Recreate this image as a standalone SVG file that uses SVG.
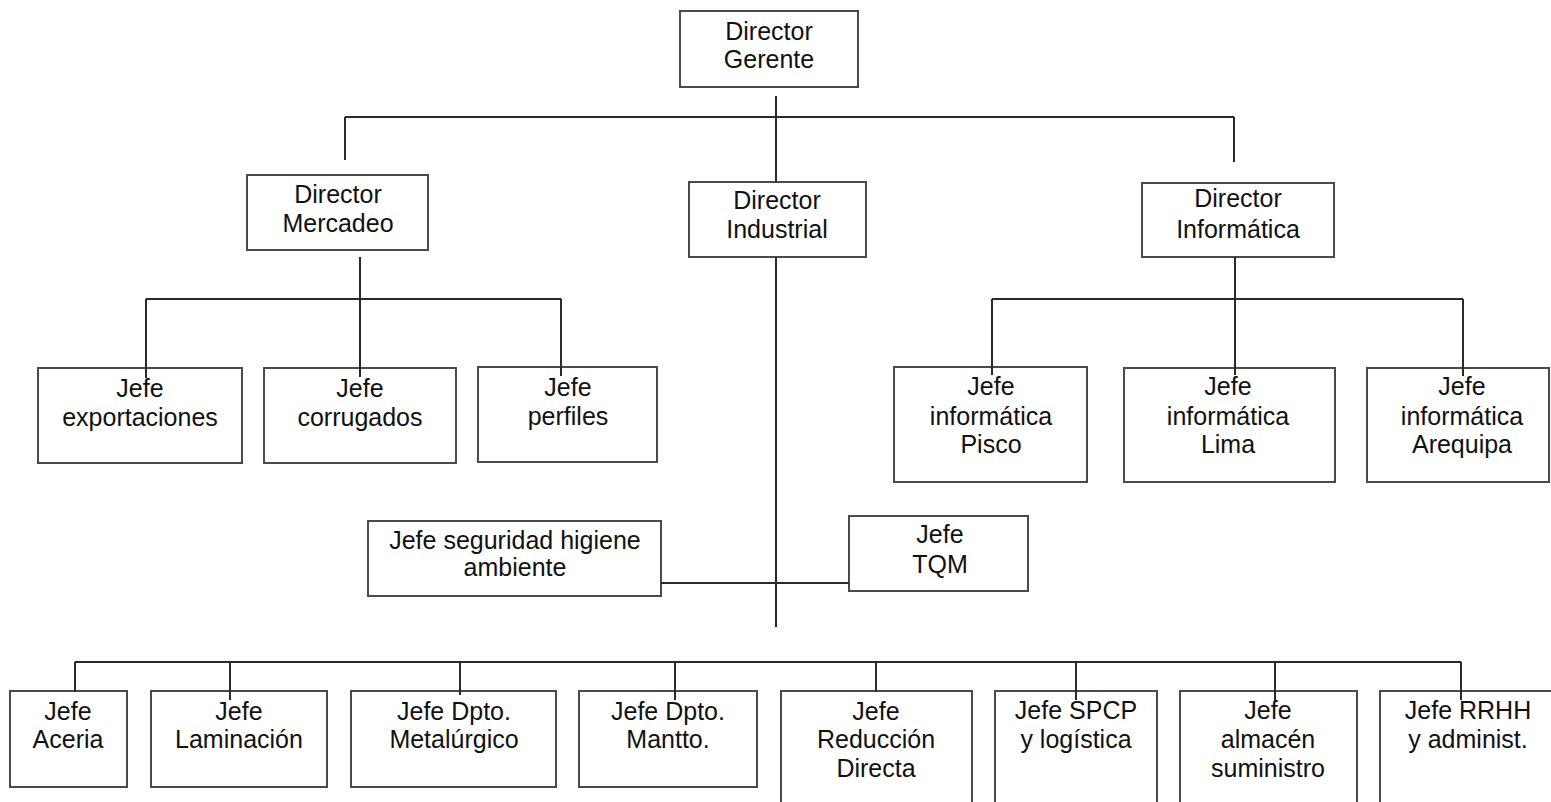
<svg xmlns="http://www.w3.org/2000/svg" width="1551" height="802" viewBox="0 0 1551 802">
  <style>
    .box { fill: #ffffff; stroke: #4a4a4a; stroke-width: 2; }
    .lbl { font-family: "Liberation Sans", Arial, sans-serif; font-size: 25px; fill: #111111; text-anchor: middle; }
    .wire { fill: none; stroke: #2a2a2a; stroke-width: 2; stroke-linecap: butt; }
  </style>
  <rect width="1551" height="802" fill="#ffffff"/>

  <!-- boxes -->
  <g id="director-gerente">
    <rect class="box" x="680" y="11" width="178" height="76"/>
    <text class="lbl"><tspan x="769" y="40">Director</tspan><tspan x="769" y="68">Gerente</tspan></text>
  </g>
  <g id="director-mercadeo">
    <rect class="box" x="247" y="175" width="181" height="75"/>
    <text class="lbl"><tspan x="338" y="203">Director</tspan><tspan x="338" y="232">Mercadeo</tspan></text>
  </g>
  <g id="director-industrial">
    <rect class="box" x="689" y="182" width="177" height="75"/>
    <text class="lbl"><tspan x="777" y="209">Director</tspan><tspan x="777" y="238">Industrial</tspan></text>
  </g>
  <g id="director-informatica">
    <rect class="box" x="1142" y="183" width="192" height="74"/>
    <text class="lbl"><tspan x="1238" y="207">Director</tspan><tspan x="1238" y="238">Informática</tspan></text>
  </g>

  <g id="jefe-exportaciones">
    <rect class="box" x="38" y="368" width="204" height="95"/>
    <text class="lbl"><tspan x="140" y="397">Jefe</tspan><tspan x="140" y="426">exportaciones</tspan></text>
  </g>
  <g id="jefe-corrugados">
    <rect class="box" x="264" y="368" width="192" height="95"/>
    <text class="lbl"><tspan x="360" y="397">Jefe</tspan><tspan x="360" y="426">corrugados</tspan></text>
  </g>
  <g id="jefe-perfiles">
    <rect class="box" x="478" y="367" width="179" height="95"/>
    <text class="lbl"><tspan x="568" y="396">Jefe</tspan><tspan x="568" y="425">perfiles</tspan></text>
  </g>

  <g id="jefe-info-pisco">
    <rect class="box" x="894" y="367" width="193" height="115"/>
    <text class="lbl"><tspan x="991" y="395">Jefe</tspan><tspan x="991" y="425">informática</tspan><tspan x="991" y="453">Pisco</tspan></text>
  </g>
  <g id="jefe-info-lima">
    <rect class="box" x="1124" y="368" width="211" height="114"/>
    <text class="lbl"><tspan x="1228" y="395">Jefe</tspan><tspan x="1228" y="425">informática</tspan><tspan x="1228" y="453">Lima</tspan></text>
  </g>
  <g id="jefe-info-arequipa">
    <rect class="box" x="1367" y="368" width="182" height="114"/>
    <text class="lbl"><tspan x="1462" y="395">Jefe</tspan><tspan x="1462" y="425">informática</tspan><tspan x="1462" y="453">Arequipa</tspan></text>
  </g>

  <g id="jefe-seguridad">
    <rect class="box" x="368" y="521" width="293" height="75"/>
    <text class="lbl"><tspan x="515" y="549">Jefe seguridad higiene</tspan><tspan x="515" y="576">ambiente</tspan></text>
  </g>
  <g id="jefe-tqm">
    <rect class="box" x="849" y="516" width="179" height="75"/>
    <text class="lbl"><tspan x="940" y="543">Jefe</tspan><tspan x="940" y="573">TQM</tspan></text>
  </g>

  <g id="jefe-aceria">
    <rect class="box" x="10" y="691" width="117" height="96"/>
    <text class="lbl"><tspan x="68" y="720">Jefe</tspan><tspan x="68" y="748">Aceria</tspan></text>
  </g>
  <g id="jefe-laminacion">
    <rect class="box" x="151" y="691" width="176" height="96"/>
    <text class="lbl"><tspan x="239" y="720">Jefe</tspan><tspan x="239" y="748">Laminación</tspan></text>
  </g>
  <g id="jefe-metalurgico">
    <rect class="box" x="351" y="691" width="205" height="96"/>
    <text class="lbl"><tspan x="454" y="720">Jefe Dpto.</tspan><tspan x="454" y="748">Metalúrgico</tspan></text>
  </g>
  <g id="jefe-mantto">
    <rect class="box" x="579" y="691" width="178" height="96"/>
    <text class="lbl"><tspan x="668" y="720">Jefe Dpto.</tspan><tspan x="668" y="748">Mantto.</tspan></text>
  </g>
  <g id="jefe-reduccion">
    <rect class="box" x="781" y="691" width="191" height="120"/>
    <text class="lbl"><tspan x="876" y="720">Jefe</tspan><tspan x="876" y="748">Reducción</tspan><tspan x="876" y="777">Directa</tspan></text>
  </g>
  <g id="jefe-spcp">
    <rect class="box" x="995" y="691" width="162" height="120"/>
    <text class="lbl"><tspan x="1076" y="719">Jefe SPCP</tspan><tspan x="1076" y="748">y logística</tspan></text>
  </g>
  <g id="jefe-almacen">
    <rect class="box" x="1180" y="691" width="177" height="120"/>
    <text class="lbl"><tspan x="1268" y="719">Jefe</tspan><tspan x="1268" y="748">almacén</tspan><tspan x="1268" y="777">suministro</tspan></text>
  </g>
  <g id="jefe-rrhh">
    <rect class="box" x="1380" y="691" width="180" height="120"/>
    <text class="lbl"><tspan x="1468" y="719">Jefe RRHH</tspan><tspan x="1468" y="748">y administ.</tspan></text>
  </g>

  <!-- connectors -->
  <g id="connectors">
    <!-- top level -->
    <path class="wire" d="M776 96 V182"/>
    <path class="wire" d="M345 117 H1234"/>
    <path class="wire" d="M345 117 V160"/>
    <path class="wire" d="M1234 117 V162"/>

    <!-- mercadeo branch -->
    <path class="wire" d="M360 257 V377"/>
    <path class="wire" d="M146 299 H561"/>
    <path class="wire" d="M146 299 V378"/>
    <path class="wire" d="M561 299 V376"/>

    <!-- informatica branch -->
    <path class="wire" d="M1235 257 V375"/>
    <path class="wire" d="M992 299 H1463"/>
    <path class="wire" d="M992 299 V375"/>
    <path class="wire" d="M1463 299 V376"/>

    <!-- industrial branch -->
    <path class="wire" d="M776 257 V627"/>
    <path class="wire" d="M661 583 H849"/>
    <path class="wire" d="M75 662 H1461"/>
    <path class="wire" d="M75 662 V692"/>
    <path class="wire" d="M230 662 V700"/>
    <path class="wire" d="M460 662 V695"/>
    <path class="wire" d="M675 662 V700"/>
    <path class="wire" d="M876 662 V692"/>
    <path class="wire" d="M1076 662 V700"/>
    <path class="wire" d="M1275 662 V701"/>
    <path class="wire" d="M1461 662 V700"/>
  </g>
</svg>
